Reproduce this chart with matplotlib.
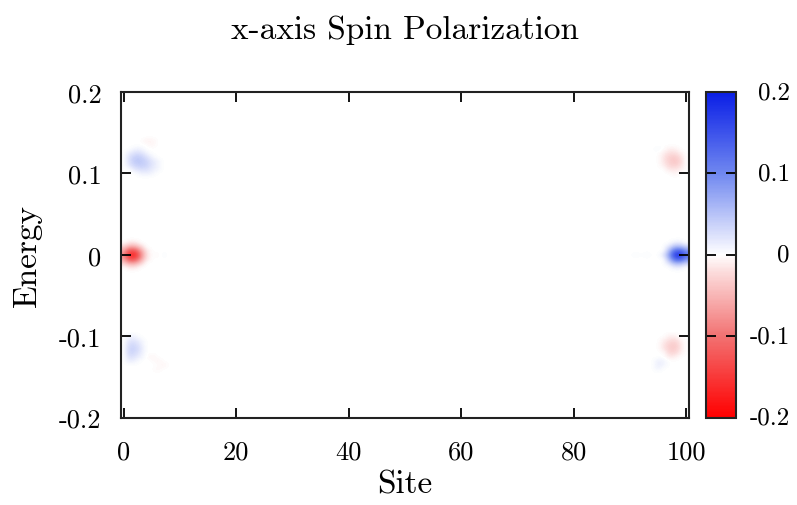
import numpy as np
import matplotlib
matplotlib.use("Agg")
import matplotlib.pyplot as plt
import matplotlib.transforms as mtransforms
from matplotlib.colors import LinearSegmentedColormap

# grid: sites 0..100, energies -0.2..0.2 step 0.005
sites = np.arange(0, 101)
energies = np.round(np.arange(-0.2, 0.2001, 0.005), 3)

# nonzero cells: (site, energy, spin_x)
left_zero_mode = [
    (0, 0.0, -0.08), (1, 0.0, -0.16), (2, 0.0, -0.17), (3, 0.0, -0.09), (4, 0.0, -0.02),
    (0, 0.005, -0.06), (1, 0.005, -0.13), (2, 0.005, -0.13), (3, 0.005, -0.07), (4, 0.005, -0.015),
    (0, -0.005, -0.06), (1, -0.005, -0.13), (2, -0.005, -0.13), (3, -0.005, -0.07), (4, -0.005, -0.015),
    (0, 0.01, -0.03), (1, 0.01, -0.06), (2, 0.01, -0.06), (3, 0.01, -0.03),
    (0, -0.01, -0.03), (1, -0.01, -0.06), (2, -0.01, -0.06), (3, -0.01, -0.03),
    (1, 0.015, -0.015), (2, 0.015, -0.015), (1, -0.015, -0.015), (2, -0.015, -0.015),
    (6, 0.0, -0.004), (7, 0.0, 0.004),
]
right_zero_mode = [
    (100, 0.0, 0.12), (99, 0.0, 0.18), (98, 0.0, 0.17), (97, 0.0, 0.08), (96, 0.0, 0.02),
    (100, 0.005, 0.09), (99, 0.005, 0.14), (98, 0.005, 0.13), (97, 0.005, 0.06),
    (100, -0.005, 0.09), (99, -0.005, 0.14), (98, -0.005, 0.13), (97, -0.005, 0.06),
    (100, 0.01, 0.04), (99, 0.01, 0.06), (98, 0.01, 0.06), (97, 0.01, 0.025),
    (100, -0.01, 0.04), (99, -0.01, 0.06), (98, -0.01, 0.06), (97, -0.01, 0.025),
    (99, 0.015, 0.015), (98, 0.015, 0.015), (99, -0.015, 0.015), (98, -0.015, 0.015),
    (93, 0.0, 0.005), (91, 0.0, 0.004),
]
left_upper_band = [
    (2, 0.13, 0.01), (3, 0.13, 0.01),
    (1, 0.125, 0.015), (2, 0.125, 0.025), (3, 0.125, 0.025), (4, 0.125, 0.01),
    (1, 0.12, 0.025), (2, 0.12, 0.04), (3, 0.12, 0.04), (4, 0.12, 0.025), (5, 0.12, 0.01),
    (1, 0.115, 0.025), (2, 0.115, 0.045), (3, 0.115, 0.045), (4, 0.115, 0.035),
    (5, 0.115, 0.02), (6, 0.115, 0.01),
    (1, 0.11, 0.02), (2, 0.11, 0.035), (3, 0.11, 0.04), (4, 0.11, 0.035),
    (5, 0.11, 0.02), (6, 0.11, 0.01),
    (2, 0.105, 0.02), (3, 0.105, 0.025), (4, 0.105, 0.025), (5, 0.105, 0.015), (6, 0.105, 0.008),
    (3, 0.1, 0.01), (4, 0.1, 0.012), (5, 0.1, 0.008),
    (4, 0.14, -0.008), (5, 0.14, -0.008), (5, 0.135, -0.006),
]
left_lower_band = [
    (1, -0.1, 0.01), (2, -0.1, 0.01),
    (1, -0.105, 0.02), (2, -0.105, 0.02), (3, -0.105, 0.01),
    (1, -0.11, 0.03), (2, -0.11, 0.03), (3, -0.11, 0.015),
    (1, -0.115, 0.035), (2, -0.115, 0.035), (3, -0.115, 0.02),
    (1, -0.12, 0.035), (2, -0.12, 0.03), (3, -0.12, 0.015),
    (1, -0.125, 0.025), (2, -0.125, 0.02), (3, -0.125, 0.01),
    (1, -0.13, 0.015), (2, -0.13, 0.01),
    (5, -0.125, -0.008), (6, -0.13, -0.008), (7, -0.135, -0.008), (6, -0.14, -0.006),
]
right_upper_band = [
    (97, 0.13, -0.01), (98, 0.13, -0.01),
    (96, 0.125, -0.01), (97, 0.125, -0.02), (98, 0.125, -0.02), (99, 0.125, -0.01),
    (96, 0.12, -0.015), (97, 0.12, -0.03), (98, 0.12, -0.035), (99, 0.12, -0.02),
    (96, 0.115, -0.015), (97, 0.115, -0.03), (98, 0.115, -0.04), (99, 0.115, -0.025),
    (96, 0.11, -0.01), (97, 0.11, -0.025), (98, 0.11, -0.03), (99, 0.11, -0.02),
    (97, 0.105, -0.015), (98, 0.105, -0.015), (99, 0.105, -0.01),
    (98, 0.1, -0.008),
    (95, 0.13, 0.005),
]
right_lower_band = [
    (97, -0.1, -0.01), (98, -0.1, -0.01),
    (96, -0.105, -0.01), (97, -0.105, -0.02), (98, -0.105, -0.025), (99, -0.105, -0.01),
    (96, -0.11, -0.015), (97, -0.11, -0.03), (98, -0.11, -0.035), (99, -0.11, -0.015),
    (96, -0.115, -0.015), (97, -0.115, -0.03), (98, -0.115, -0.035), (99, -0.115, -0.015),
    (97, -0.12, -0.025), (98, -0.12, -0.025), (99, -0.12, -0.01),
    (97, -0.125, -0.012), (98, -0.125, -0.01),
    (95, -0.13, 0.012), (96, -0.13, 0.01), (95, -0.135, 0.015), (96, -0.135, 0.008),
    (95, -0.14, 0.008),
]

spin_x = np.zeros((len(energies), len(sites)))
for cells in (left_zero_mode, right_zero_mode, left_upper_band,
              left_lower_band, right_upper_band, right_lower_band):
    for s, e, v in cells:
        spin_x[np.argmin(np.abs(energies - e)), s] = v

plt.rcParams["font.family"] = ["cmr10", "DejaVu Serif"]
plt.rcParams["axes.formatter.use_mathtext"] = True

cmap = LinearSegmentedColormap.from_list("rwb", [
    (0.0, "#ff0000"), (0.25, "#f27272"), (0.45, "#fcdede"), (0.5, "#ffffff"),
    (0.55, "#e2e6fc"), (0.75, "#7088f0"), (1.0, "#0a1ee6")], N=255)

fig = plt.figure(figsize=(7.97, 5.06), dpi=100)
ax = fig.add_axes([121 / 797, 87.5 / 506, 568 / 797, 325.5 / 506])
cax = fig.add_axes([706 / 797, 87.5 / 506, 30 / 797, 325.5 / 506])

im = ax.imshow(spin_x, origin="lower", aspect="auto", cmap=cmap,
               vmin=-0.2, vmax=0.2, interpolation="bicubic",
               extent=[-0.5, 100.5, -0.2025, 0.2025])
ax.set_xlim(-0.5, 100.5)
ax.set_ylim(-0.2, 0.2)

xt = [0, 20, 40, 60, 80, 100]
yt = [-0.2, -0.1, 0.0, 0.1, 0.2]
ylabels = ["-0.2", "-0.1", "0", "0.1", "0.2"]
ax.set_xticks(xt)
ax.set_xticklabels([str(v) for v in xt])
ax.set_yticks(yt)
ax.set_yticklabels(ylabels)
ax.tick_params(direction="in", top=True, right=True, length=7, width=1.3,
               labelsize=19, pad=14)
ax.tick_params(axis="x", pad=16)
for sp in ax.spines.values():
    sp.set_linewidth(1.5)
    sp.set_color("#222222")

ax.set_xlabel("Site", fontsize=24, labelpad=4)
ax.set_ylabel("Energy", fontsize=24, labelpad=12)
fig.text(0.508, 0.94, "x-axis Spin Polarization", ha="center", va="center",
         fontsize=24)

cb = fig.colorbar(im, cax=cax)
cb.set_ticks(yt)
cb.set_ticklabels([""] * len(yt))
cax.tick_params(direction="in", left=True, right=True, length=7, width=1.3)
cb.outline.set_linewidth(1.5)
cb.outline.set_edgecolor("#222222")

# colorbar labels, right-aligned like gnuplot
trans = mtransforms.blended_transform_factory(cax.transAxes, cax.transData)
for v, lab in zip(yt, ylabels):
    cax.text(2.8, v, lab, transform=trans, ha="right", va="center", fontsize=18)

fig.savefig("out.png", dpi=100)
